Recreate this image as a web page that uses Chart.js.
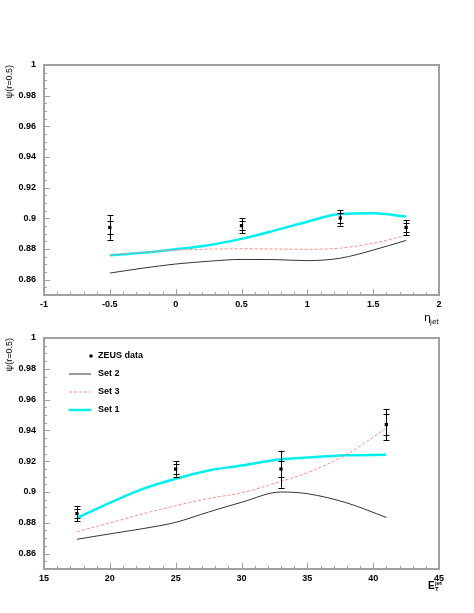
<!DOCTYPE html>
<html>
<head>
<meta charset="utf-8">
<script src="https://cdn.jsdelivr.net/npm/chart.js@4.4.0/dist/chart.umd.min.js"></script>
<style>
html, body { margin: 0; padding: 0; background: #fff; }
canvas { position: absolute; left: 0; }
#top { top: 0; }
#bot { top: 330px; }
</style>
</head>
<body>
<canvas id="top" width="474" height="330"></canvas>
<canvas id="bot" width="474" height="283"></canvas>
<script>
// --- top panel: psi vs eta_jet ---
const etaX    = [-0.5, -0.25, 0, 0.25, 0.5, 0.75, 1, 1.25, 1.5, 1.75];
const etaSet1 = [0.8760, 0.8775, 0.8798, 0.8825, 0.8866, 0.8920, 0.8978, 0.9028, 0.9033, 0.9012];
const etaSet3 = [0.8762, 0.8778, 0.8793, 0.8799, 0.8802, 0.8800, 0.8798, 0.8806, 0.8837, 0.8889];
const etaSet2 = [0.8643, 0.8675, 0.8702, 0.8720, 0.8732, 0.8731, 0.8724, 0.8740, 0.8793, 0.8856];
const etaPtX  = [-0.5, 0.5, 1.25, 1.75];
const etaPtY  = [0.894, 0.8952, 0.9002, 0.894];
const etaStat = [0.004, 0.003, 0.003, 0.003];
const etaTot  = [0.008, 0.005, 0.005, 0.005];

// --- bottom panel: psi vs E_T^jet ---
const etX    = [17.5, 20, 22.5, 25, 27.5, 30, 33, 35, 38, 41];
const etSet1 = [0.8831, 0.8929, 0.9020, 0.9086, 0.9140, 0.9172, 0.9212, 0.9224, 0.9238, 0.9242];
const etSet3 = [0.8743, 0.8799, 0.8858, 0.8911, 0.8958, 0.8995, 0.9069, 0.9125, 0.9245, 0.9415];
const etSet2 = [0.8693, 0.8728, 0.8762, 0.8803, 0.8870, 0.8933, 0.9000, 0.8989, 0.8929, 0.8835];
const etPtX  = [17.5, 25, 33, 41];
const etPtY  = [0.886, 0.9149, 0.9149, 0.9438];
const etStat = [0.003, 0.003, 0.005, 0.0068];
const etTot  = [0.005, 0.005, 0.012, 0.010];

const yLabels = [0.86, 0.88, 0.9, 0.92, 0.94, 0.96, 0.98, 1];
const legendNames = ['ZEUS data', 'Set 2', 'Set 3', 'Set 1'];

const FRAME = '#a0a0a0';
const FONT_B = 'bold 9px "Liberation Sans", Arial, sans-serif';
const FONT_N = '9px "Liberation Sans", Arial, sans-serif';

function pts(xs, ys) { return xs.map((x, i) => ({x: x, y: ys[i]})); }
function fmt(v) { return String(parseFloat(v.toFixed(3))); }

function framePlugin(o) {
  return {
    id: 'frame',
    afterDatasetsDraw(chart) {
      // error bars: total (outer) and stat (inner) caps
      const ctx = chart.ctx, xs = chart.scales.x, ys = chart.scales.y;
      ctx.save();
      ctx.strokeStyle = '#000';
      ctx.lineWidth = 1;
      o.ptX.forEach((x, i) => {
        const px = Math.round(xs.getPixelForValue(x)) + 0.5;
        const y = o.ptY[i];
        const hi = ys.getPixelForValue(y + o.tot[i]), lo = ys.getPixelForValue(y - o.tot[i]);
        ctx.beginPath(); ctx.moveTo(px, hi); ctx.lineTo(px, lo); ctx.stroke();
        [y + o.tot[i], y - o.tot[i], y + o.stat[i], y - o.stat[i]].forEach(v => {
          const py = Math.round(ys.getPixelForValue(v)) + 0.5;
          ctx.beginPath(); ctx.moveTo(px - 3, py); ctx.lineTo(px + 3, py); ctx.stroke();
        });
      });
      ctx.restore();
    },
    afterDraw(chart) {
      const ctx = chart.ctx, a = chart.chartArea, xs = chart.scales.x, ys = chart.scales.y;
      ctx.save();
      ctx.strokeStyle = FRAME;
      ctx.lineWidth = 2;
      ctx.strokeRect(a.left, a.top, a.right - a.left, a.bottom - a.top);
      ctx.lineWidth = 1;
      // x ticks, inside, from the bottom edge
      const nx = Math.round((o.xMax - o.xMin) / o.xMinor);
      for (let k = 0; k <= nx; k++) {
        const v = o.xMin + k * o.xMinor;
        const major = Math.abs(v / o.xMajor - Math.round(v / o.xMajor)) < 1e-6;
        const px = Math.round(xs.getPixelForValue(v)) + 0.5;
        ctx.beginPath(); ctx.moveTo(px, a.bottom); ctx.lineTo(px, a.bottom - (major ? 6 : 3)); ctx.stroke();
      }
      // y ticks, inside, from the left edge
      const ny = Math.round((1 - 0.85) / 0.005);
      for (let k = 0; k <= ny; k++) {
        const v = 0.85 + k * 0.005;
        const major = Math.abs(v / 0.02 - Math.round(v / 0.02)) < 1e-6;
        const py = Math.round(ys.getPixelForValue(v)) + 0.5;
        ctx.beginPath(); ctx.moveTo(a.left, py); ctx.lineTo(a.left + (major ? 6 : 3), py); ctx.stroke();
      }
      ctx.fillStyle = '#000';
      ctx.font = FONT_B;
      ctx.textAlign = 'center'; ctx.textBaseline = 'top';
      for (let v = o.xMin; v <= o.xMax + 1e-9; v += o.xMajor) {
        ctx.fillText(fmt(v), xs.getPixelForValue(v), a.bottom + 5);
      }
      ctx.textAlign = 'right'; ctx.textBaseline = 'middle';
      yLabels.forEach(v => ctx.fillText(fmt(v), a.left - 8, ys.getPixelForValue(v)));

      // y title, reading upward, ending at the top of the frame
      ctx.save();
      ctx.font = FONT_N;
      ctx.translate(10, a.top);
      ctx.rotate(-Math.PI / 2);
      ctx.textAlign = 'right'; ctx.textBaseline = 'middle';
      ctx.fillText('\u03c8(r=0.5)', 0, 0);
      ctx.restore();

      // x title
      ctx.textAlign = 'left'; ctx.textBaseline = 'middle';
      o.drawXTitle(ctx, a);

      if (o.legend) {
        const lx = 69, tx = 98;
        const ly = [a.top + 18, a.top + 36, a.top + 54, a.top + 72];
        ctx.font = FONT_B;
        ctx.fillStyle = '#000';
        ctx.beginPath(); ctx.arc(91, ly[0], 1.8, 0, Math.PI * 2); ctx.fill();
        const ds = chart.data.datasets;
        [ds[0], ds[1], ds[2]].forEach((d, i) => {
          ctx.strokeStyle = d.borderColor;
          ctx.lineWidth = d.borderWidth;
          ctx.setLineDash(d.borderDash || []);
          ctx.beginPath(); ctx.moveTo(lx, ly[i + 1]); ctx.lineTo(lx + 22, ly[i + 1]); ctx.stroke();
        });
        ctx.setLineDash([]);
        legendNames.forEach((n, i) => ctx.fillText(n, tx, ly[i]));
      }
      ctx.restore();
    }
  };
}

function makePanel(id, o) {
  const line = {pointRadius: 0, fill: false, cubicInterpolationMode: 'monotone'};
  new Chart(document.getElementById(id), {
    type: 'line',
    data: {
      datasets: [
        Object.assign({label: 'Set 2', data: pts(o.cx, o.s2), borderColor: '#000000', borderWidth: 0.8}, line),
        Object.assign({label: 'Set 3', data: pts(o.cx, o.s3), borderColor: '#ff8a8a', borderWidth: 1, borderDash: [3, 2]}, line),
        Object.assign({label: 'Set 1', data: pts(o.cx, o.s1), borderColor: '#00f0f0', borderWidth: 2.5}, line),
        {label: 'ZEUS data', type: 'scatter', data: pts(o.ptX, o.ptY), pointStyle: 'rect',
         pointRadius: 2.3, backgroundColor: '#000', borderColor: '#000', borderWidth: 0, showLine: false}
      ]
    },
    options: {
      responsive: false,
      animation: false,
      devicePixelRatio: 1,
      layout: {padding: o.pad},
      plugins: {legend: {display: false}, tooltip: {enabled: false}},
      scales: {
        x: {type: 'linear', min: o.xMin, max: o.xMax, display: false},
        y: {type: 'linear', min: 0.85, max: 1, display: false}
      }
    },
    plugins: [framePlugin(o)]
  });
}

makePanel('top', {
  cx: etaX, s1: etaSet1, s2: etaSet2, s3: etaSet3,
  ptX: etaPtX, ptY: etaPtY, stat: etaStat, tot: etaTot,
  xMin: -1, xMax: 2, xMajor: 0.5, xMinor: 0.1,
  pad: {left: 44, top: 65, right: 35, bottom: 35},
  legend: false,
  drawXTitle(ctx, a) {
    ctx.font = '11px "DejaVu Sans", sans-serif';
    ctx.fillText('\u03b7', 424, a.bottom + 23);
    ctx.font = '7px "DejaVu Sans", sans-serif';
    ctx.fillText('jet', 430, a.bottom + 27);
  }
});

makePanel('bot', {
  cx: etX, s1: etSet1, s2: etSet2, s3: etSet3,
  ptX: etPtX, ptY: etPtY, stat: etStat, tot: etTot,
  xMin: 15, xMax: 45, xMajor: 5, xMinor: 1,
  pad: {left: 44, top: 8, right: 35, bottom: 44},
  legend: true,
  drawXTitle(ctx, a) {
    ctx.font = 'bold 10px "Liberation Sans", Arial, sans-serif';
    ctx.fillText('E', 428, a.bottom + 17);
    ctx.font = 'bold 6px "Liberation Sans", Arial, sans-serif';
    ctx.fillText('jet', 435, a.bottom + 14);
    ctx.fillText('T', 435, a.bottom + 20);
  }
});
</script>
</body>
</html>
